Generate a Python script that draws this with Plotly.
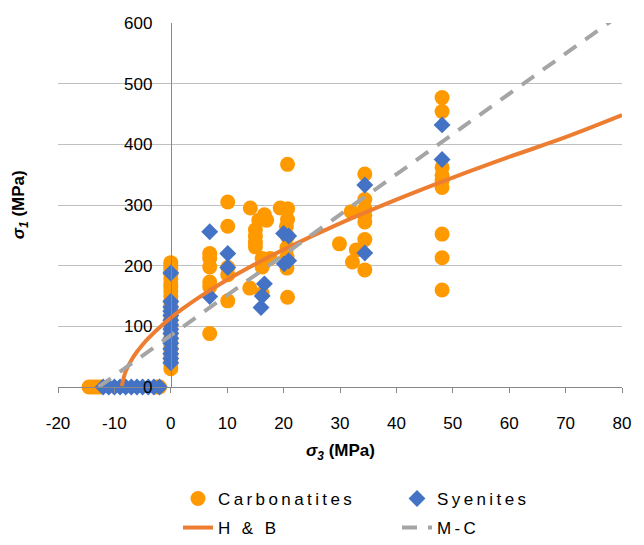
import plotly.graph_objects as go

# ---------------- data ----------------
carb_s3 = [-14.5, -14.0, -13.5, -13.0, -12.5, -2.5, -2.0,
           0, 0, 0, 0, 0, 0, 0, 0, 0, 0, 0, 0, 0, 0, 0, 0, 0, 0, 0, 0, 0, 0, 0, 0, 0, 0,
           6.9, 6.9, 6.9, 6.9, 6.9, 6.9,
           10.1, 10.1, 10.1, 10.1, 10.1,
           14.1, 14.0, 15.0, 15.0, 15.0, 15.0,
           15.6, 16.6, 17.0, 16.2, 16.2, 17.6, 16.2,
           19.4, 20.7, 20.7, 20.5, 20.7, 20.6, 20.6, 20.6, 20.7, 20.7,
           29.9,
           34.4, 34.4, 34.4, 34.4, 34.4, 32.0, 34.4, 32.9, 32.2, 34.4,
           48.1, 48.1, 48.1, 48.1, 48.1, 48.1, 48.1, 48.1, 48.1]
carb_s1 = [0, 0, 0, 0, 0, 0, 0,
           205, 200, 195, 190, 185, 178, 170, 165, 158, 150, 142, 135, 128, 120, 112, 105,
           98, 90, 82, 75, 68, 60, 52, 45, 38, 30,
           220, 212, 198, 173, 165, 88,
           305, 265, 185, 142, 197,
           295, 163, 259, 248, 238, 231,
           275, 284, 275, 212, 198, 212, 154,
           295, 294, 276, 265, 248, 230, 215, 196, 148, 367,
           236,
           351, 309, 294, 283, 272, 289, 243, 226, 206, 193,
           477, 454, 362, 349, 341, 329, 252, 213, 160]

sye_s3 = [-12, -11, -10, -9, -8, -7, -6, -5, -4, -3, -2,
          0, 0, 0, 0, 0, 0, 0, 0, 0, 0, 0, 0, 0, 0, 0,
          6.9, 6.9, 10.1, 10.1, 16.6, 16.2, 16.0, 20.0, 20.9, 20.1, 20.9,
          34.4, 34.4, 48.1, 48.1]
sye_s1 = [0, 0, 0, 0, 0, 0, 0, 0, 0, 0, 0,
          188, 141, 132, 125, 118, 110, 102, 95, 88, 80, 72, 63, 55, 47, 40,
          256, 149, 220, 197, 170, 150, 131, 253, 249, 203, 208,
          333, 221, 432, 375]

hb_s3 = [-8.7, -8.0, -7.0, -6.0, -5.0, -4.0, -2.0, 0, 2, 5, 10, 15, 20, 30, 40, 50, 60, 70, 80]
hb_s1 = [1.4, 25.8, 44.2, 58.1, 69.7, 80.1, 98.2, 114, 128.3, 147.8, 176.8, 202.7,
         226.5, 269.7, 308.8, 345.1, 379.2, 411.7, 448]

mc_s3 = [-12.8, 80]
mc_s1 = [0, 616]

x_tickvals = [-20, -10, 0, 10, 20, 30, 40, 50, 60, 70, 80]
x_ticktext = ["-20", "-10", "0", "10", "20", "30", "40", "50", "60", "70", "80"]
y_tickvals = [0, 100, 200, 300, 400, 500, 600]

FONT = "Liberation Sans, Arial, sans-serif"

fig = go.Figure()
fig.add_trace(go.Scatter(x=carb_s3, y=carb_s1, mode="markers", name="Carbonatites",
                         marker=dict(symbol="circle", size=15, color="#FF9900"),
                         cliponaxis=False, legend="legend"))
fig.add_trace(go.Scatter(x=sye_s3, y=sye_s1, mode="markers", name="Syenites",
                         marker=dict(symbol="diamond", size=13, color="#4472C4"),
                         cliponaxis=False, legend="legend"))
fig.add_trace(go.Scatter(x=hb_s3, y=hb_s1, mode="lines", name="H & B",
                         line=dict(color="#ED7D31", width=4, shape="spline"),
                         cliponaxis=False, legend="legend2"))
fig.add_trace(go.Scatter(x=mc_s3, y=mc_s1, mode="lines", name="M-C",
                         line=dict(color="#A5A5A5", width=4, dash="15px,11px"),
                         cliponaxis=False, legend="legend2"))

leg_common = dict(orientation="h", xref="container", x=0.2764, xanchor="left",
                  yref="container", yanchor="middle",
                  entrywidth=174, entrywidthmode="pixels",
                  font=dict(family=FONT, size=17, color="black"),
                  bgcolor="rgba(0,0,0,0)")

fig.update_layout(
    width=644, height=545,
    margin=dict(l=58, r=22, t=23, b=158, autoexpand=False),
    plot_bgcolor="white", paper_bgcolor="white",
    font=dict(family=FONT, size=17, color="black"),
    showlegend=True,
    legend=dict(leg_common, y=1 - 499 / 545),
    legend2=dict(leg_common, y=1 - 528 / 545),
    xaxis=dict(range=[-20, 80], tickvals=x_tickvals, ticktext=x_ticktext,
               showgrid=False, zeroline=False, showline=True, linecolor="#888888",
               linewidth=1, ticks="outside", ticklen=5, tickcolor="#888888",
               ticklabelstandoff=16, tickfont=dict(size=17)),
    yaxis=dict(range=[0, 600], tickvals=y_tickvals, anchor="free", position=0.2,
               showgrid=True, gridcolor="#C0C0C0", gridwidth=1, zeroline=False,
               showline=True, linecolor="#888888", linewidth=1, ticks="",
               ticklabelstandoff=15, tickfont=dict(size=17)),
    annotations=[
        dict(text="<b><i>σ<sub>1</sub></i> (MPa)</b>", xref="paper", yref="paper",
             x=-0.067, y=0.5, xanchor="center", yanchor="middle", textangle=-90,
             showarrow=False, font=dict(size=17)),
        dict(text="<b><i>σ<sub>3</sub></i> (MPa)</b>", xref="paper", yref="paper",
             x=0.5, y=-0.179, xanchor="center", yanchor="middle",
             showarrow=False, font=dict(size=17)),
    ],
)

post = """
var s=document.createElement('style');
s.textContent='text.legendtext, .infolayer g[class^="legend"] text{letter-spacing:3.4px !important;}';
document.head.appendChild(s);
function sp(){
  document.querySelectorAll('text.legendtext').forEach(function(t){
    t.style.letterSpacing='3.4px';
  });
}
sp();
var gd=document.getElementsByClassName('plotly-graph-div')[0];
if(gd && gd.on){ gd.on('plotly_afterplot', sp); }
"""
fig.write_html("out.html", post_script=post)
